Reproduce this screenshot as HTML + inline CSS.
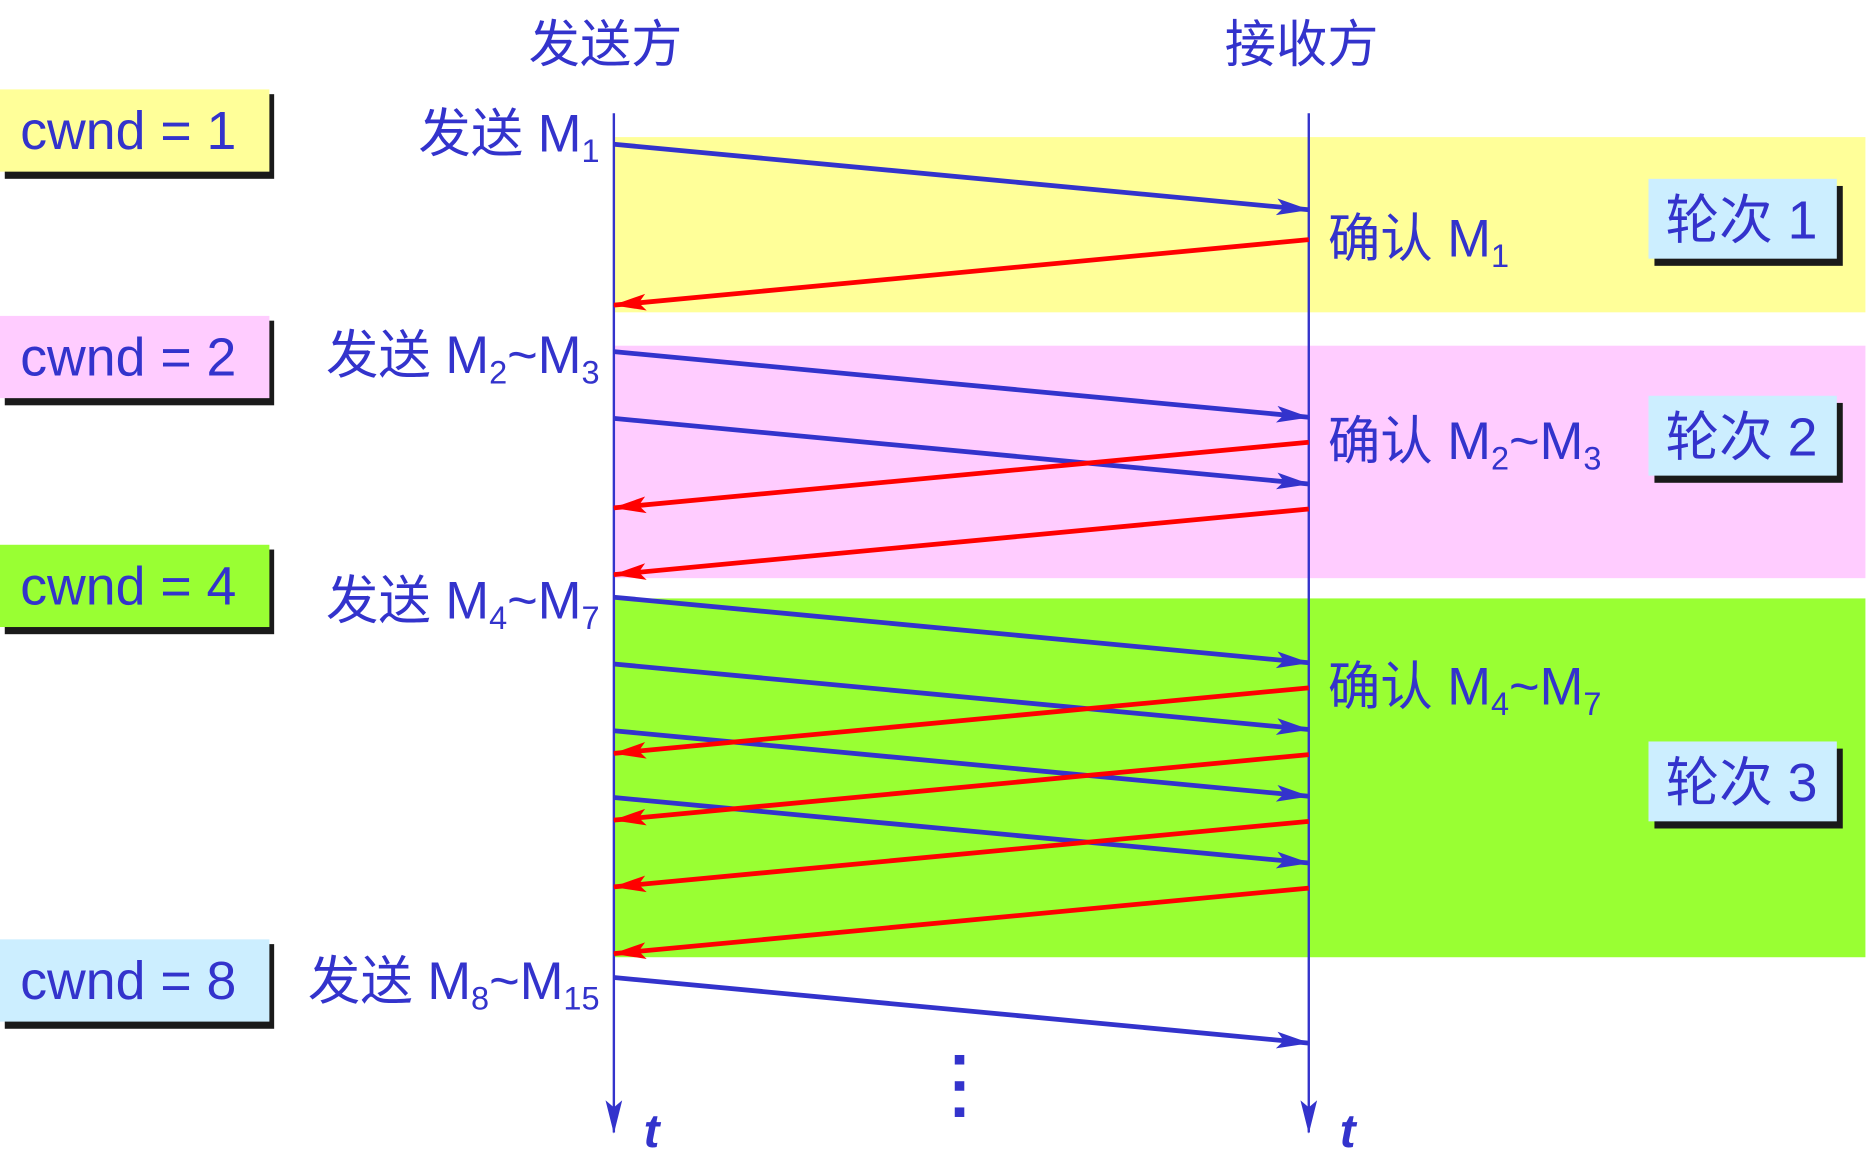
<!DOCTYPE html>
<html><head><meta charset="utf-8"><style>
html,body{margin:0;padding:0;background:#fff;}
svg{display:block;}
text{font-family:"Liberation Sans","Noto Sans CJK SC",sans-serif;fill:#3333cc;}
</style></head><body>
<svg id="chart" width="1869" height="1173" viewBox="0 0 1568 984" preserveAspectRatio="none">
<defs>
<marker id="ab" markerWidth="28" markerHeight="16" refX="27" refY="8" orient="auto" markerUnits="userSpaceOnUse"><path d="M0,1 L28,8 L0,15 L6,8 Z" fill="#3333cc"/></marker>
<marker id="ar" markerWidth="28" markerHeight="16" refX="27" refY="8" orient="auto" markerUnits="userSpaceOnUse"><path d="M0,1 L28,8 L0,15 L6,8 Z" fill="#ff0000"/></marker>
</defs>
<g id="bands"></g>
<g id="lines"></g>
<g id="labels"></g>
</svg>
<script>
const roundNames = ["轮次 1","轮次 2","轮次 3"];
const cwndValues = [1, 2, 4, 8];
const sendLabels = ["发送 M<1>","发送 M<2>~M<3>","发送 M<4>~M<7>","发送 M<8>~M<15>"];
const ackLabels = ["确认 M<1>","确认 M<2>~M<3>","确认 M<4>~M<7>"];
const sendTimes = [[121],[295,351],[501,557,613,669],[820]];
const ackTimes = [[201],[371,427],[577,633,689,745]];

const NS="http://www.w3.org/2000/svg";
const SX=515, RX=1098, DELAY=55;
const bandColors=["#ffff99","#ffccff","#99ff33"];
const cwndColors=["#ffff99","#ffccff","#99ff33","#cceeff"];
function mk(tag,attrs,parent){const e=document.createElementNS(NS,tag);for(const k in attrs)e.setAttribute(k,attrs[k]);parent.appendChild(e);return e;}
function rich(el,str,size){
  const parts=str.split(/<(\d+)>/);
  parts.forEach((p,i)=>{if(!p)return;const t=document.createElementNS(NS,'tspan');
    if(i%2){t.setAttribute('font-size',size*0.62);t.setAttribute('dy',size*0.2);}
    else if(i>0){t.setAttribute('dy',-size*0.2);}
    t.textContent=p;el.appendChild(t);});
}
const bands=document.getElementById('bands'),lines=document.getElementById('lines'),labels=document.getElementById('labels');
const bandTop=[115,290,502], bandBot=[262,485,803];
for(let r=0;r<3;r++){
  const b=mk('rect',{x:SX,y:bandTop[r],width:1565-SX,height:bandBot[r]-bandTop[r],fill:bandColors[r]},bands);
  
  
}
const sl=mk('line',{x1:SX,y1:95,x2:SX,y2:950,stroke:'#3333cc','stroke-width':2,'marker-end':'url(#ab)'},lines);


const rl=mk('line',{x1:RX,y1:95,x2:RX,y2:950,stroke:'#3333cc','stroke-width':2,'marker-end':'url(#ab)'},lines);


sendTimes.forEach((arr,r)=>arr.forEach((y,i)=>{
  const l=mk('line',{x1:SX,y1:y,x2:RX,y2:y+DELAY,stroke:'#3333cc','stroke-width':4,'marker-end':'url(#ab)'},lines);
  
  
}));
ackTimes.forEach((arr,r)=>arr.forEach((y,i)=>{
  const l=mk('line',{x1:RX,y1:y,x2:SX,y2:y+DELAY,stroke:'#ff0000','stroke-width':4,'marker-end':'url(#ar)'},lines);
  
  
}));
let h=mk('text',{x:508,y:52,'font-size':43,'text-anchor':'middle'},labels);h.textContent='发送方';


h=mk('text',{x:1092,y:52,'font-size':43,'text-anchor':'middle'},labels);h.textContent='接收方';


const cwndTop=[75,265,457,788];
cwndValues.forEach((v,i)=>{
  const y=cwndTop[i];
  mk('rect',{x:4,y:y+4,width:226,height:71,fill:'#1a1a1a'},labels);
  const b=mk('rect',{x:0,y:y,width:226,height:69,fill:cwndColors[i]},labels);
  
  
  const t=mk('text',{x:17,y:y+50,'font-size':45},labels);t.textContent='cwnd = '+v;
  
  
});
const sendOff=[6,18,18,18];
sendLabels.forEach((s,i)=>{
  const t=mk('text',{x:503,y:sendTimes[i][0]+sendOff[i],'font-size':44,'text-anchor':'end'},labels);
  rich(t,s,44);
  
  
});
ackLabels.forEach((s,i)=>{
  const t=mk('text',{x:1114,y:ackTimes[i][0]+14,'font-size':44},labels);
  rich(t,s,44);
  
  
});
const roundTop=[150,332,622];
roundNames.forEach((n,i)=>{
  const y=roundTop[i];
  mk('rect',{x:1388,y:y+6,width:158,height:67,fill:'#1a1a1a'},labels);
  const b=mk('rect',{x:1383,y:y,width:158,height:67,fill:'#cceeff'},labels);
  
  
  const t=mk('text',{x:1461,y:y+50,'font-size':45,'text-anchor':'middle'},labels);t.textContent=n;
  
  
});
[[540,'sender-time-label'],[1124,'receiver-time-label']].forEach(([x,n])=>{
  const t=mk('text',{x:x,y:962,'font-size':40,'font-style':'italic','font-weight':'bold'},labels);t.textContent='t';
  
  
});
[885,907,929].forEach(y=>{const d=mk('rect',{x:801,y:y,width:8,height:8,fill:'#3333cc'},labels);
  
  });
</script>
</body></html>
